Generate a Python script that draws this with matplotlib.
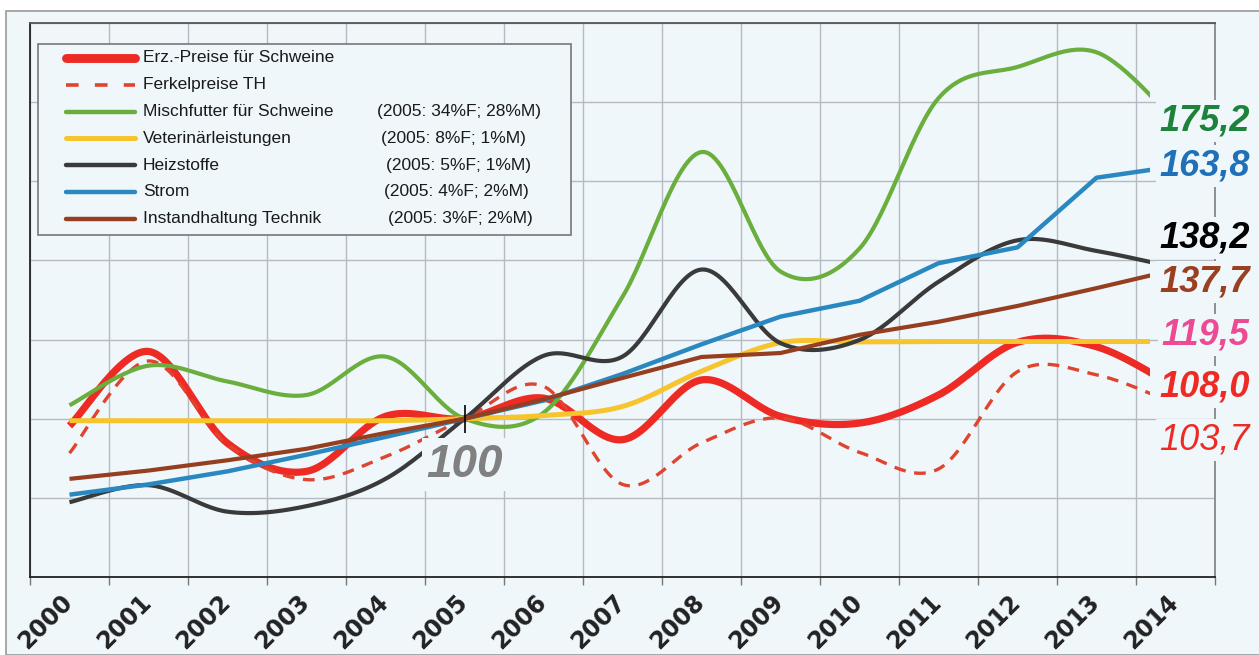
import numpy as np
import matplotlib.pyplot as plt
from matplotlib.patches import Rectangle
from matplotlib.lines import Line2D
from matplotlib.transforms import ScaledTranslation

W, H = 1259, 655
BG = "#eff7fb"

years = list(range(2000, 2015))

# index values, 2005 = 100
erz_preise = [98.2, 117.0, 93.8, 86.7, 100.6, 100.0, 105.2, 94.7, 109.8, 100.6, 98.9, 106.0, 119.3, 118.2, 108.0]
ferkel = [91.3, 114.6, 93.5, 84.6, 90.4, 100.0, 108.2, 83.4, 93.9, 100.2, 91.5, 87.3, 111.9, 111.1, 103.7]
mischfutter = [103.4, 113.4, 109.4, 106.0, 115.7, 100.0, 101.5, 130.8, 167.4, 137.2, 143.0, 181.0, 188.9, 192.6, 175.2]
veterinaer = [99.5, 99.5, 99.5, 99.5, 99.5, 100.0, 100.8, 103.1, 112.0, 119.2, 119.4, 119.5, 119.5, 119.5, 119.5]
heizstoffe = [78.9, 83.2, 76.5, 77.9, 84.8, 100.0, 115.9, 115.7, 137.7, 119.1, 119.9, 134.6, 145.1, 142.4, 138.2]
strom = [80.8, 83.4, 86.7, 90.9, 95.4, 100.0, 104.6, 111.3, 118.8, 125.8, 129.8, 139.3, 143.3, 160.9, 163.8]
instandhaltung = [84.8, 86.9, 89.5, 92.4, 96.4, 100.0, 104.9, 110.3, 115.6, 116.6, 121.2, 124.5, 128.5, 133.0, 137.7]

names = ["Erz.-Preise für Schweine", "Ferkelpreise TH", "Mischfutter für Schweine",
         "Veterinärleistungen", "Heizstoffe", "Strom", "Instandhaltung Technik"]
shares = ["", "", "(2005: 34%F; 28%M)", "(2005: 8%F; 1%M)", "(2005: 5%F; 1%M)",
          "(2005: 4%F; 2%M)", "(2005: 3%F; 2%M)"]
values = [erz_preise, ferkel, mischfutter, veterinaer, heizstoffe, strom, instandhaltung]

colors = ["#ee2a24", "#e0442e", "#6aaf3d", "#f6c42c", "#3a3a3a", "#2a88c0", "#963f20"]
widths = [5.2, 2.4, 3.0, 3.6, 3.0, 3.2, 3.0]
smoothed = [True, True, True, True, True, False, False]
label_colors = ["#ee2a24", "#ee2a24", "#1e823c", "#ec4b94", "#000000", "#2070b8", "#9a4020"]
label_shift = [0, -9.0, 0, 1.7, 7.4, 0, -3.2]


def px(x, y):
    return x / W, 1 - y / H


def smooth(xs, ys, n=30):
    # cubic bezier through the points, excel style tangents
    x = np.asarray(xs, float)
    y = np.asarray(ys, float)
    px_ = np.concatenate([[x[0]], x, [x[-1]]])
    py_ = np.concatenate([[y[0]], y, [y[-1]]])
    t = np.linspace(0, 1, n)
    ox, oy = [], []
    for i in range(len(x) - 1):
        for arr, out in ((px_, ox), (py_, oy)):
            b0, b3 = arr[i + 1], arr[i + 2]
            b1 = b0 + (arr[i + 2] - arr[i]) / 6
            b2 = b3 - (arr[i + 3] - arr[i + 1]) / 6
            out.append((1 - t) ** 3 * b0 + 3 * (1 - t) ** 2 * t * b1
                       + 3 * (1 - t) * t ** 2 * b2 + t ** 3 * b3)
    return np.concatenate(ox), np.concatenate(oy)


plt.rcParams["font.family"] = ["Liberation Sans", "DejaVu Sans"]

fig = plt.figure(figsize=(W / 100, H / 100), dpi=100, facecolor="white")
fig.patches.append(Rectangle(px(6, H), 1, 1 - 11 / H, transform=fig.transFigure,
                             fc=BG, ec="#9a9a9a", lw=1.2, zorder=-1))

x0, y0 = px(30, 577)
x1, y1 = px(1215, 23)
ax = fig.add_axes([x0, y0, x1 - x0, y1 - y0])
ax.set_facecolor(BG)

xs = np.arange(len(years)) + 0.5
ax.set_xlim(0, len(years))
ax.set_ylim(60, 200)

# lines disappear under the value labels on the right
clip = Rectangle((0, 60), (1150 - 30) / 79, 140, transform=ax.transData)

for vals, c, lw, sm, name in zip(values, colors, widths, smoothed, names):
    if sm:
        lx, ly = smooth(xs, vals)
    else:
        lx, ly = xs, vals
    ls = (0, (3.5, 2.6)) if name == "Ferkelpreise TH" else "-"
    ln, = ax.plot(lx, ly, color=c, lw=lw, ls=ls, solid_capstyle="butt", zorder=3)
    ln.set_clip_path(clip)

ax.plot(xs[5], strom[5], marker="|", ms=20, mew=1.2, color="black", zorder=6)

ax.text(xs[5], 88.4, "100", fontsize=33, fontweight="bold", fontstyle="italic",
        color="#808080", ha="center", va="center", zorder=5,
        bbox=dict(boxstyle="square,pad=0.1", fc=BG, ec="none"))

for vals, c, shift, name in zip(values, label_colors, label_shift, names):
    txt = f"{vals[-1]:.1f}".replace(".", ",")
    weight = "normal" if name == "Ferkelpreise TH" else "bold"
    ax.text(15.44, vals[-1] + shift, txt, fontsize=26, fontweight=weight,
            fontstyle="italic", color=c, ha="right", va="center", zorder=10,
            clip_on=False, bbox=dict(boxstyle="square,pad=0.1", fc=BG, ec="none"))

ax.set_xticks(range(len(years) + 1))
ax.set_xticklabels([])
ax.tick_params(axis="x", which="major", length=6, color="#777777", width=1)
ax.set_yticks(range(60, 201, 20))
ax.tick_params(axis="y", length=0, labelleft=False)
ax.grid(True, which="major", color="#b6bac2", lw=1.0)
ax.set_axisbelow(True)

# year labels, top right corner just right of the category centre
year_tr = ax.get_xaxis_transform() + ScaledTranslation(0.08, -0.13, fig.dpi_scale_trans)
for xv, yr in zip(xs, years):
    ax.text(xv, 0, str(yr), transform=year_tr, rotation=45, ha="right", va="top",
            fontsize=17, fontweight="bold", color="#222222", family="DejaVu Sans",
            clip_on=False)

for side, c in (("left", "#222222"), ("bottom", "#222222"), ("top", "#555555"), ("right", "#888888")):
    ax.spines[side].set_color(c)
    ax.spines[side].set_linewidth(1.3)

# legend box
lx0, ly0 = px(38, 235)
lx1, ly1 = px(571, 44)
fig.patches.append(Rectangle((lx0, ly0), lx1 - lx0, ly1 - ly0, transform=fig.transFigure,
                             fc=BG, ec="#777777", lw=1.2, zorder=5))
share_x = [0, 0, 377, 381, 386, 384, 388]
for i, (name, share, c, lw) in enumerate(zip(names, shares, colors, widths)):
    ry = 58 + 26.8 * i
    hx0, hy = px(66, ry)
    hx1, _ = px(135, ry)
    if name == "Ferkelpreise TH":
        hl = Line2D([hx0, hx1], [hy, hy], color=c, lw=2.6, ls=(0, (3.5, 4.5)))
    else:
        hl = Line2D([hx0, hx1], [hy, hy], color=c, lw=max(lw, 3.2) + (1.2 if i == 0 else 0),
                    solid_capstyle="round")
    hl.set_transform(fig.transFigure)
    hl.set_zorder(6)
    fig.lines.append(hl)
    tx, ty = px(143, ry)
    fig.text(tx, ty, name, fontsize=12.5, color="#1a1a1a", va="center", zorder=6)
    if share:
        sx, _ = px(share_x[i], ry)
        fig.text(sx, ty, share, fontsize=12.5, color="#1a1a1a", va="center", zorder=6)

fig.savefig("out.png", dpi=100, facecolor="white")
